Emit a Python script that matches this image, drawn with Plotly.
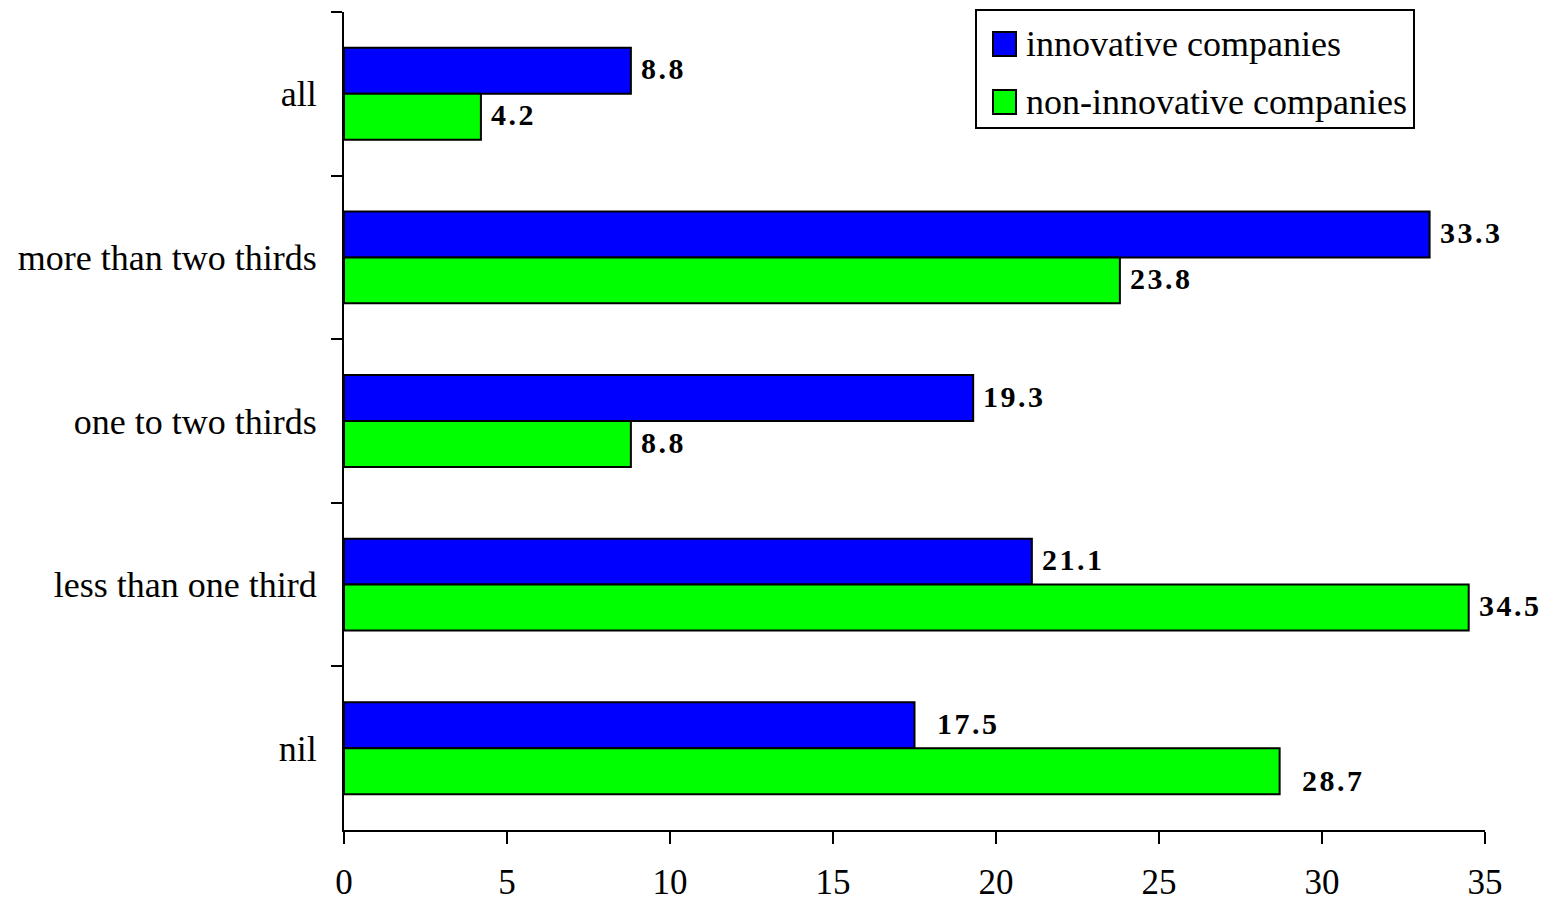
import plotly.graph_objects as go

# Share of companies by category (percent)
categories = ["all", "more than two thirds", "one to two thirds", "less than one third", "nil"]
innovative = [8.8, 33.3, 19.3, 21.1, 17.5]
non_innovative = [4.2, 23.8, 8.8, 34.5, 28.7]
series_names = ["innovative companies", "non-innovative companies"]
x_ticks = [0, 5, 10, 15, 20, 25, 30, 35]

FONT = "Liberation Serif"
BLUE = "#0000FF"
GREEN = "#00FF00"

# extra pixel offsets for value labels (xshift, yshift) per category, per series
label_nudge = {
    "nil": [(12, 0), (12, -11)],
}


def spaced(v):
    # loose letter spacing for the value labels
    return "\u200a".join(f"{v:.1f}")


fig = go.Figure()
for name, vals, col in [(series_names[0], innovative, BLUE), (series_names[1], non_innovative, GREEN)]:
    fig.add_trace(go.Bar(
        y=categories, x=vals, name=name, orientation="h",
        marker=dict(color=col, line=dict(color="black", width=2)),
        showlegend=False,
    ))

# value labels
BAR_HALF = 23
for i, cat in enumerate(categories):
    for k, vals in enumerate([innovative, non_innovative]):
        dx, dy = label_nudge.get(cat, [(0, 0), (0, 0)])[k]
        fig.add_annotation(
            x=vals[i], y=cat, xref="x", yref="y",
            text=spaced(vals[i]), showarrow=False,
            xanchor="left", yanchor="middle",
            xshift=8 + dx, yshift=(BAR_HALF if k == 0 else -BAR_HALF) + 2 + dy,
            font=dict(family=FONT, size=30, color="black", weight="bold"),
        )

# legend box drawn in pixel-like paper coordinates
W, H = 1549, 903
ml, mr, mt, mb = 344, 64, 12, 73
pw, ph = W - ml - mr, H - mt - mb


def px(x):
    return (x - ml) / pw


def py(y):
    return 1 - (y - mt) / ph


fig.add_shape(type="rect", xref="paper", yref="paper",
              x0=px(976), x1=px(1414), y0=py(128), y1=py(10),
              line=dict(color="black", width=2), fillcolor="white", layer="above")
for j, (name, col) in enumerate([(series_names[0], BLUE), (series_names[1], GREEN)]):
    cy = 44 + j * 58
    fig.add_shape(type="rect", xref="paper", yref="paper",
                  x0=px(993), x1=px(1016), y0=py(cy + 12), y1=py(cy - 12),
                  line=dict(color="black", width=2), fillcolor=col, layer="above")
    fig.add_annotation(x=px(1024), y=py(cy), xref="paper", yref="paper",
                       text=name, showarrow=False, xanchor="left", yanchor="middle",
                       font=dict(family=FONT, size=36, color="black"))

fig.update_layout(
    width=W, height=H,
    margin=dict(l=ml, r=mr, t=mt, b=mb, autoexpand=False),
    paper_bgcolor="white", plot_bgcolor="white",
    barmode="group", bargap=0.438, bargroupgap=0,
    font=dict(family=FONT, color="black"),
)
fig.update_xaxes(
    range=[0, 35], tickvals=x_ticks, showgrid=False, zeroline=False,
    showline=True, linecolor="black", linewidth=2, automargin=False,
    ticks="outside", ticklen=12, tickwidth=2, tickcolor="black",
    tickfont=dict(family=FONT, size=35, color="black"),
    ticklabelstandoff=8,
)
fig.update_yaxes(
    range=[4.5, -0.5], showgrid=False, zeroline=False,
    showline=True, linecolor="black", linewidth=2, automargin=False,
    ticks="outside", ticklen=11, tickwidth=2, tickcolor="black",
    tickson="boundaries",
    tickfont=dict(family=FONT, size=36, color="black"),
    ticklabelstandoff=18,
)

fig.write_html("out.html")
